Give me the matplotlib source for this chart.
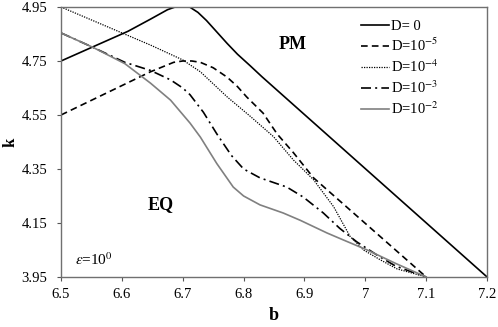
import numpy as np
import matplotlib
matplotlib.use('Agg')
import matplotlib.pyplot as plt

plt.rcParams['font.family'] = ['Liberation Serif', 'DejaVu Serif']
plt.rcParams['mathtext.fontset'] = 'stix'

# D = 0
b0 = [6.5, 6.55, 6.61, 6.647, 6.675, 6.69, 6.71, 6.725, 6.739, 6.755, 6.773, 6.79, 6.811, 6.83, 7.2]
k0 = [4.75, 4.80, 4.86, 4.905, 4.94, 4.952, 4.952, 4.93, 4.90, 4.86, 4.815, 4.775, 4.732, 4.692, 3.95]

# D = 1e-5
b1 = [6.5, 6.647, 6.685, 6.70, 6.715, 6.729, 6.75, 6.773, 6.79, 6.805, 6.832, 6.855, 6.882, 6.915, 7.1]
k1 = [4.55, 4.71, 4.745, 4.75, 4.75, 4.745, 4.725, 4.69, 4.655, 4.617, 4.557, 4.48, 4.41, 4.317, 3.95]

# D = 1e-4
b2 = [6.5, 6.647, 6.70, 6.729, 6.773, 6.811, 6.849, 6.882, 6.915, 6.948, 6.975,
      6.997, 7.025, 7.052, 7.1]
k2 = [4.95, 4.809, 4.754, 4.71, 4.617, 4.545, 4.47, 4.383, 4.31, 4.21, 4.10,
      4.05, 4.013, 3.98, 3.95]

# D = 1e-3
b3 = [6.5, 6.553, 6.605, 6.647, 6.68, 6.70, 6.712, 6.734, 6.756, 6.78, 6.8, 6.827,
      6.871, 6.898, 6.931, 6.958, 6.986, 7.02, 7.05, 7.1]
k3 = [4.854, 4.80, 4.745, 4.715, 4.68, 4.65, 4.625, 4.56, 4.48, 4.40, 4.35, 4.317,
      4.283, 4.246, 4.187, 4.13, 4.08, 4.03, 3.99, 3.95]

# D = 1e-2
b4 = [6.5, 6.553, 6.605, 6.647, 6.68, 6.712, 6.729, 6.756, 6.783, 6.8, 6.827,
      6.865, 6.893, 6.937, 6.964, 7.003, 7.05, 7.1]
k4 = [4.854, 4.80, 4.74, 4.668, 4.605, 4.52, 4.468, 4.37, 4.283, 4.25, 4.217,
      4.187, 4.16, 4.113, 4.087, 4.05, 4.0, 3.95]

xticks = [6.5, 6.6, 6.7, 6.8, 6.9, 7.0, 7.1, 7.2]
xlabels = ['6.5', '6.6', '6.7', '6.8', '6.9', '7', '7.1', '7.2']
yticks = [3.95, 4.15, 4.35, 4.55, 4.75, 4.95]
ylabels = ['3.95', '4.15', '4.35', '4.55', '4.75', '4.95']

fig = plt.figure(figsize=(4.98, 3.27), dpi=100)
ax = fig.add_axes([0.1225, 0.153, 0.8555, 0.8256])

ax.plot(b0, k0, color='black', lw=1.2, label='D= 0')
ax.plot(b1, k1, color='black', lw=1.2, ls=(0, (4, 2.5)), label='D=10$^{-5}$')
ax.plot(b2, k2, color='black', lw=0.9, ls=(0, (1, 1)), label='D=10$^{-4}$')
ax.plot(b3, k3, color='black', lw=1.2, ls=(0, (6, 2.5, 1.2, 2.5)), label='D=10$^{-3}$')
ax.plot(b4, k4, color='#808080', lw=1.2, label='D=10$^{-2}$')

ax.set_xlim(6.5, 7.2)
ax.set_ylim(3.95, 4.95)
ax.set_xticks(xticks)
ax.set_xticklabels(xlabels)
ax.set_yticks(yticks)
ax.set_yticklabels(ylabels)
ax.tick_params(direction='out', length=3, labelsize=10.5, color='#555555')
ax.tick_params(axis='y', pad=7)
ax.tick_params(axis='x', pad=5)
for s in ax.spines.values():
    s.set_color('#707070')
    s.set_linewidth(1.0)

ax.set_xlabel('b', fontsize=13, fontweight='bold', labelpad=4)
ax.set_ylabel('k', fontsize=12, fontweight='bold', rotation=90)
ax.yaxis.set_label_coords(-0.10, 0.5)

ax.text(6.881, 4.81, 'PM', fontsize=13, fontweight='bold', ha='center', va='center')
ax.text(6.663, 4.22, 'EQ', fontsize=13, fontweight='bold', ha='center', va='center')
ax.text(6.523, 4.015, r'$\epsilon$=10$^{0}$', fontsize=11, ha='left', va='center')

leg = ax.legend(loc='upper left', bbox_to_anchor=(0.69, 0.975), frameon=False,
                fontsize=10.5, handlelength=1.9, handletextpad=0.2,
                labelspacing=0.3, borderaxespad=0)

fig.savefig('out.png', dpi=100)
